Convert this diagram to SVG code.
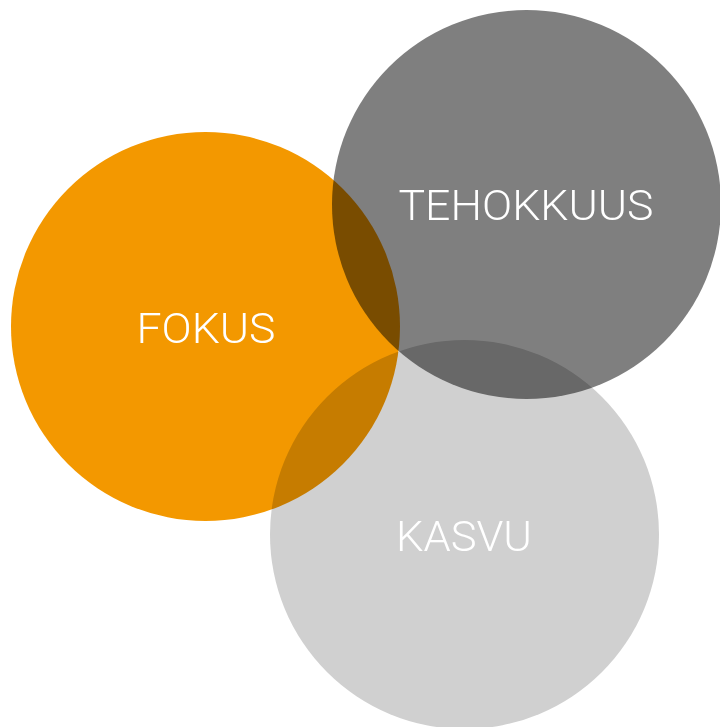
<svg xmlns="http://www.w3.org/2000/svg" width="720" height="727" viewBox="0 0 720 727">
<style>
.c{mix-blend-mode:multiply}
.t{font-family:Roboto,"Liberation Sans",Arial,sans-serif;font-weight:300;font-size:43px;fill:#fff;text-anchor:middle}
</style>
<rect width="720" height="727" fill="#fff"/>
<g id="kasvu"><circle class="c" cx="464.5" cy="534.5" r="194.5" fill="#D0D0D0"/></g>
<g id="tehokkuus"><circle class="c" cx="526.5" cy="204.5" r="194.5" fill="#7F7F7F"/></g>
<g id="fokus"><circle class="c" cx="205.5" cy="326.5" r="194.5" fill="#F39800"/></g>
<g id="labels">
<text class="t" x="526" y="220" textLength="255" lengthAdjust="spacingAndGlyphs">TEHOKKUUS</text>
<text class="t" x="206" y="343" textLength="139" lengthAdjust="spacingAndGlyphs">FOKUS</text>
<text class="t" x="464" y="551" textLength="136" lengthAdjust="spacingAndGlyphs">KASVU</text>
</g>
</svg>
